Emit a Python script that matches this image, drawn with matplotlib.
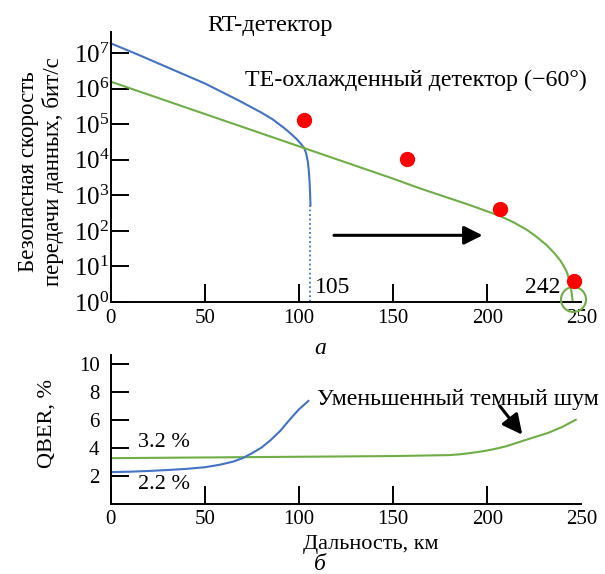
import matplotlib
matplotlib.use("Agg")
import matplotlib.pyplot as plt
import numpy as np

plt.rcParams["font.family"] = ["Liberation Serif", "DejaVu Serif"]
plt.rcParams["mathtext.fontset"] = "custom"
plt.rcParams["mathtext.rm"] = "Liberation Serif"
plt.rcParams["mathtext.it"] = "Liberation Serif:italic"

BLUE = "#4472c4"
GREEN = "#70ad47"

# --- (а) secure key rate, log10(bit/s)
rt_km = [0, 15, 32, 50, 68, 80, 86, 92, 96, 99, 101, 102.8, 103.8, 104.7,
         105.2, 105.6, 105.9, 106.1]
rt_log10 = [7.28, 6.95, 6.56, 6.15, 5.67, 5.33, 5.14, 4.9, 4.72, 4.57, 4.45,
            4.33, 4.18, 3.95, 3.7, 3.4, 3.05, 2.72]
rt_cut_km = 106.1
rt_cut_log10 = 2.72

te_km = [0, 50, 100, 150, 164, 190, 206.7, 214, 221, 226, 231.5, 235.5, 238.6,
         240.5, 242.2, 243.4, 244.3, 244.9, 245.3]
te_log10 = [6.2, 5.29, 4.38, 3.47, 3.2, 2.74, 2.42, 2.24, 2.03, 1.84, 1.6, 1.38,
            1.18, 1.02, 0.85, 0.65, 0.43, 0.22, 0.04]

red_km = [102.8, 157.4, 206.7, 246]
red_log10 = [5.13, 4.03, 2.62, 0.59]

circle_km = [245.3]
circle_log10 = [0.08]

# --- (б) QBER, %
qber_rt_km = [0, 10, 20, 30, 40, 50, 58, 65, 70, 75, 80, 85, 90, 95, 100, 105]
qber_rt = [2.25, 2.28, 2.33, 2.4, 2.48, 2.6, 2.78, 3.0, 3.25, 3.6, 4.0, 4.55,
           5.2, 6.0, 6.75, 7.35]

qber_te_km = [0, 50, 100, 150, 180, 185, 190, 195, 200, 205, 210, 218, 225,
              232.5, 240, 247]
qber_te = [3.25, 3.3, 3.35, 3.4, 3.47, 3.52, 3.6, 3.69, 3.8, 3.94, 4.1, 4.45,
           4.75, 5.07, 5.5, 6.0]

x_ticks = [0, 50, 100, 150, 200, 250]
rate_ticks = [1e0, 1e1, 1e2, 1e3, 1e4, 1e5, 1e6, 1e7]
rate_labels = [r"$10^{%d}$" % i for i in range(8)]
qber_ticks = [2, 4, 6, 8, 10]

fig = plt.figure(figsize=(6.05, 5.74), dpi=100)
ax1 = fig.add_axes([0.183, 0.474, 0.778, 0.471])
ax2 = fig.add_axes([0.183, 0.1228, 0.778, 0.2587])

for ax in (ax1, ax2):
    ax.spines["top"].set_visible(False)
    ax.spines["right"].set_visible(False)
    ax.spines["left"].set_linewidth(1.4)
    ax.spines["bottom"].set_linewidth(1.4)
    ax.set_xlim(0, 250)
    ax.set_xticks(x_ticks)
    ax.set_xticklabels([str(t) for t in x_ticks])
    ax.tick_params(axis="both", direction="in", length=13, width=1.4)
    ax.tick_params(axis="x", labelsize=15, pad=5)
    ax.xaxis.get_major_ticks()[-1].tick1line.set_visible(False)
    ax.minorticks_off()

# top panel
ax1.set_yscale("log")
ax1.set_ylim(1, 10 ** 7.61)
ax1.set_yticks(rate_ticks)
ax1.set_yticklabels(rate_labels)
ax1.minorticks_off()
ax1.tick_params(axis="y", labelsize=18, pad=1)

ax1.plot(rt_km, 10 ** np.array(rt_log10), color=BLUE, lw=1.5, clip_on=False)
ax1.plot([rt_cut_km, rt_cut_km], [10 ** rt_cut_log10, 1], color=BLUE, lw=1.3,
         linestyle=(0, (1, 1.5)), clip_on=False)
ax1.plot(te_km, 10 ** np.array(te_log10), color=GREEN, lw=1.5, clip_on=False)
ax1.plot(red_km, 10 ** np.array(red_log10), "o", color="#ff0000", ms=10,
         clip_on=False, zorder=5)
ax1.plot(circle_km, 10 ** np.array(circle_log10), "o", mfc="none", mec=GREEN,
         mew=1.5, ms=18, clip_on=False, zorder=4)

ax1.annotate("", xy=(197.5, 75), xytext=(118.6, 75),
             arrowprops=dict(arrowstyle="-|>", color="black", lw=2.2,
                             mutation_scale=28, shrinkA=0, shrinkB=0))
ax1.text(108.2, 10 ** 0.42, "105", fontsize=17, ha="left", va="center")
ax1.text(239, 10 ** 0.42, "242", fontsize=17, ha="right", va="center")

fig.text(207 / 605, 1 - 25 / 574, "RT-детектор", fontsize=17.5, ha="left", va="center")
fig.text(245 / 605, 1 - 80 / 574, "ТЕ-охлажденный детектор (−60°)", fontsize=17.3,
         ha="left", va="center")
fig.text(41 / 605, 1 - 172 / 574, "Безопасная скорость\nпередачи данных, бит/с",
         fontsize=16.5, rotation=90, ha="center", va="center", linespacing=1.15)
fig.text(320 / 605, 1 - 348 / 574, "а", fontsize=17, style="italic",
         ha="center", va="center")

# bottom panel
ax2.set_ylim(0, 10.64)
ax2.set_yticks(qber_ticks)
ax2.tick_params(axis="y", labelsize=15, pad=8)
ax2.plot(qber_te_km, qber_te, color=GREEN, lw=1.5)
ax2.plot(qber_rt_km, qber_rt, color=BLUE, lw=1.5)

ax2.text(14.6, 4.36, "3.2 %", fontsize=16, ha="left", va="center")
ax2.text(14.6, 1.36, "2.2 %", fontsize=16, ha="left", va="center")
ax2.text(109.7, 7.43, "Уменьшенный темный шум", fontsize=17.2, ha="left", va="center")
ax2.annotate("", xy=(218.6, 4.93), xytext=(206.6, 7.0),
             arrowprops=dict(arrowstyle="-|>", color="black", lw=2.2,
                             mutation_scale=30, shrinkA=0, shrinkB=0))

fig.text(47 / 605, 1 - 423 / 574, "QBER, %", fontsize=16, rotation=90,
         ha="center", va="center")
fig.text(371 / 605, 1 - 545 / 574, "Дальность, км", fontsize=16, ha="center", va="center")
fig.text(320 / 605, 1 - 565 / 574, "б", fontsize=17, style="italic",
         ha="center", va="center")

fig.savefig("out.png", dpi=100)
